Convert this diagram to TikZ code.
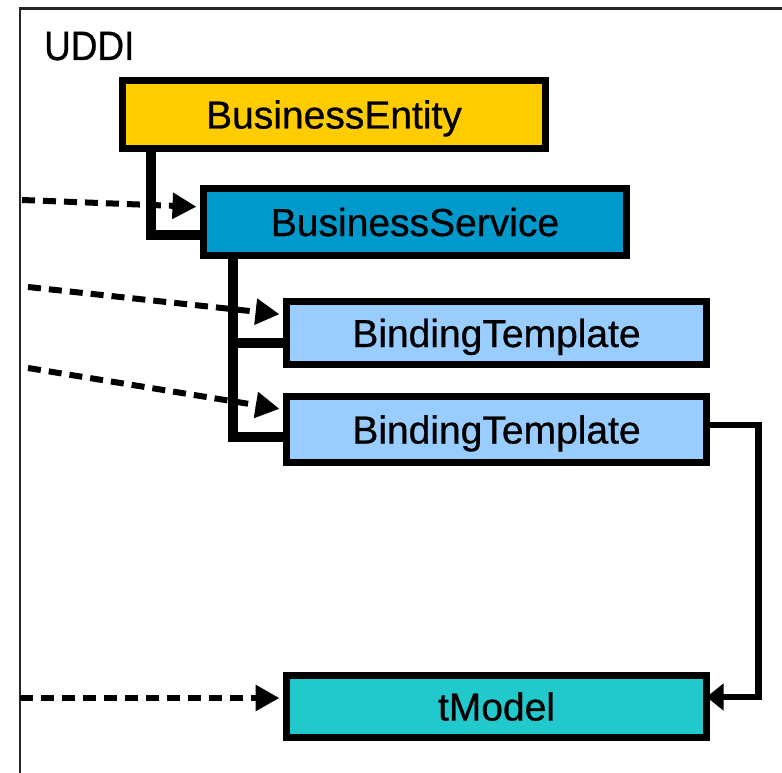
\documentclass[tikz,border=0pt]{standalone}
\usepackage{fontspec}
\setmainfont{Liberation Sans}
\newfontfamily\labelfont{Liberation Sans}[FakeBold=0.7]
\usetikzlibrary{arrows.meta}

\definecolor{entityfill}{HTML}{FFCC00}
\definecolor{servicefill}{HTML}{0099CC}
\definecolor{bindingfill}{HTML}{99CCFF}
\definecolor{tmodelfill}{HTML}{21C9CC}

\tikzset{
  entbox/.style={draw=black, line width=7pt, outer sep=0pt, inner sep=0pt,
    minimum width=420pt, text height=28pt, text depth=0pt,
    font=\labelfont\fontsize{39}{40}\selectfont},
  tree/.style={draw=black, line width=9.5pt},
  ref/.style={draw=black, line width=6.5pt, -{Triangle[length=17pt,width=26pt]}},
  ext/.style={draw=black, line width=6pt, dash pattern=on 13pt off 8pt,
    shorten >=7pt, -{Triangle[length=24pt,width=25pt]}},
  frameline/.style={draw=black!85, line width=2.2pt}
}

\begin{document}
\begin{tikzpicture}[x=1pt, y=-1pt]
  \path[use as bounding box] (0,0) rectangle (782,773);
  \clip (0,0) rectangle (782,773);

  % registry frame (open to the right and below)
  \draw[frameline] (20,800) -- (20,8.5) -- (800,8.5);
  \node[anchor=base west, inner sep=0pt, font=\labelfont\fontsize{41}{42}\selectfont, xscale=0.9]
    (uddi) at (44,60) {UDDI};

  % data structures
  \node[entbox, fill=entityfill, minimum width=423pt, minimum height=68pt]
    (be) at (334,114.5) {BusinessEntity};
  \node[entbox, fill=servicefill, minimum width=423pt, minimum height=67pt]
    (bs) at (415,222) {BusinessService};
  \node[entbox, fill=bindingfill, minimum height=63pt]
    (bt1) at (496.5,333) {BindingTemplate};
  \node[entbox, fill=bindingfill, minimum height=66pt]
    (bt2) at (496.5,429.5) {BindingTemplate};
  \node[entbox, fill=tmodelfill, minimum height=62pt]
    (tm) at (496.5,706.5) {tModel};

  % containment
  \draw[tree] ([xshift=28.5pt]be.south west) |- ([yshift=-13pt]bs.west);
  \draw[tree] ([xshift=29.5pt]bs.south west) |- ([yshift=-10pt]bt1.west);
  \draw[tree] ([xshift=29.5pt]bs.south west) |- ([yshift=-7.5pt]bt2.west);

  % binding refers to tModel
  \draw[ref] ([yshift=4.5pt]bt2.east) -- ++(52,0) |- ([yshift=9.5pt]tm.east);

  % references from outside
  \coordinate (in1) at (22,200);
  \coordinate (in2) at (28,287);
  \coordinate (in3) at (28,368);
  \coordinate (in4) at (20,698);
  \draw[ext] (in1) -- ([yshift=15pt]bs.west);
  \draw[ext] (in2) -- ([yshift=18pt]bt1.west);
  \draw[ext] (in3) -- ([yshift=19.5pt]bt2.west);
  \draw[ext] (in4) -- ([yshift=8.5pt]tm.west);
\end{tikzpicture}
\end{document}
